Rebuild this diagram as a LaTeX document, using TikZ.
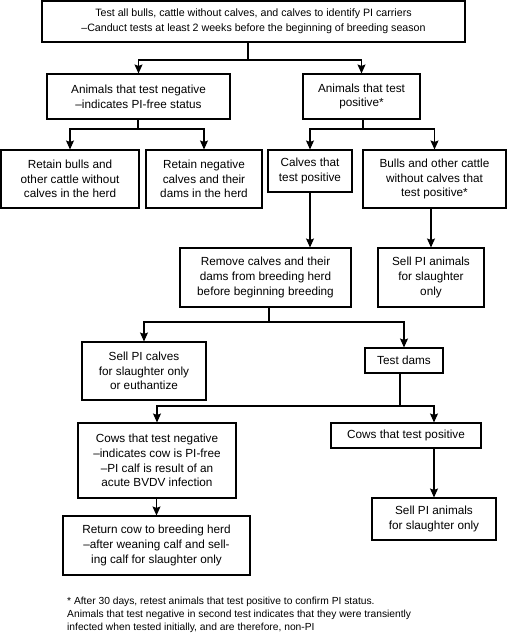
\documentclass[tikz,border=0pt]{standalone}
\usepackage{fontspec}
\setmainfont{Liberation Sans}
\usetikzlibrary{arrows.meta, positioning}

\begin{document}
\begin{tikzpicture}[
          x=1bp, y=-1bp,
          box/.style={draw, line width=1.1pt, align=center, inner sep=0pt,
                      font=\fontsize{11.8}{14.8}\selectfont},
          arr/.style={-{Stealth[length=9pt,width=8pt,inset=1.5pt]}, line width=1.1pt},
          link/.style={line width=1.1pt}
        ]
        \useasboundingbox (0,0) rectangle (509,633);
        \node[box, minimum width=423bp, minimum height=41bp,
              font=\fontsize{10.7}{14.8}\selectfont] (test) at (253.5,21.5)
          {Test all bulls, cattle without calves, and calves to identify PI carriers\\
           \textendash Canduct tests at least 2 weeks before the beginning of breeding season};
        \node[box, minimum width=183bp, minimum height=45bp] (neg) at (138.5,96.5)
          {Animals that test negative\\\textendash indicates PI-free status};
        \node[box, minimum width=117bp, minimum height=45bp] (pos) at (361.5,96.5)
          {Animals that test\\positive*};
        \node[box, minimum width=138bp, minimum height=58bp] (retbulls) at (70,179)
          {Retain bulls and\\other cattle without\\calves in the herd};
        \node[box, minimum width=116bp, minimum height=58bp] (retneg) at (204,179)
          {Retain negative\\calves and their\\dams in the herd};
        \node[box, minimum width=84bp, minimum height=42bp] (calvpos) at (310,171)
          {Calves that\\test positive};
        \node[box, minimum width=143bp, minimum height=58bp] (bullpos) at (434.5,179)
          {Bulls and other cattle\\without calves that\\test positive*};
        \node[box, minimum width=171bp, minimum height=59bp] (remove) at (265.5,277.5)
          {Remove calves and their\\dams from breeding herd\\before beginning breeding};
        \node[box, minimum width=106bp, minimum height=59bp] (sellanim) at (431,277.5)
          {Sell PI animals\\for slaughter\\only};
        \node[box, minimum width=124bp, minimum height=58bp] (sellcalf) at (144,371)
          {Sell PI calves\\for slaughter only\\or euthantize};
        \node[box, minimum width=78bp, minimum height=25bp] (dams) at (404,360.5)
          {Test dams};
        \node[box, minimum width=158bp, minimum height=75bp] (cowneg) at (157,460.5)
          {Cows that test negative\\\textendash indicates cow is PI-free\\
           \textendash PI calf is result of an\\acute BVDV infection};
        \node[box, minimum width=150bp, minimum height=25bp] (cowpos) at (406,435.5)
          {Cows that test positive};
        \node[box, minimum width=187bp, minimum height=59bp] (return) at (156.5,545.5)
          {Return cow to breeding herd\\\textendash after weaning calf and sell-\\ing calf for slaughter only};
        \node[box, minimum width=124bp, minimum height=42bp] (sellcow) at (434,519)
          {Sell PI animals\\for slaughter only};
        \node[anchor=base west, align=left, inner sep=0pt,
              font=\fontsize{10.3}{13}\selectfont] (note) at (67,630.5)
          {* After 30 days, retest animals that test positive to confirm PI status.\\
           Animals that test negative in second test indicates that they were transiently\\
           infected when tested initially, and are therefore, non-PI};
        \coordinate (j1) at (248,60);
        \coordinate (j2) at (138,129);
        \coordinate (j3) at (363,129);
        \coordinate (j4) at (269,322);
        \coordinate (j5) at (400,406);
        \draw[link] (test.south -| j1) -- (j1);
        \draw[arr] (j1) -| (neg);
        \draw[arr] (j1) -| (pos);
        \draw[link] (neg.south -| j2) -- (j2);
        \draw[arr] (j2) -| (retbulls);
        \draw[arr] (j2) -| (retneg);
        \draw[link] (pos.south -| j3) -- (j3);
        \draw[arr] (j3) -| (calvpos);
        \draw[arr] (j3) -| (bullpos);
        \draw[arr] (calvpos.south) -- (calvpos.south |- remove.north);
        \draw[arr] (sellanim.north |- bullpos.south) -- (sellanim.north);
        \draw[link] (remove.south -| j4) -- (j4);
        \draw[arr] (j4) -| (sellcalf);
        \draw[arr] (j4) -| (dams);
        \draw[link] (dams.south -| j5) -- (j5);
        \draw[arr] (j5) -| (cowneg);
        \draw[arr] (j5) -| (cowpos.north -| sellcow.north);
        \draw[arr] (cowneg.south -| return.north) -- (return.north);
        \draw[arr] (sellcow.north |- cowpos.south) -- (sellcow.north);
      \end{tikzpicture}
\end{document}
